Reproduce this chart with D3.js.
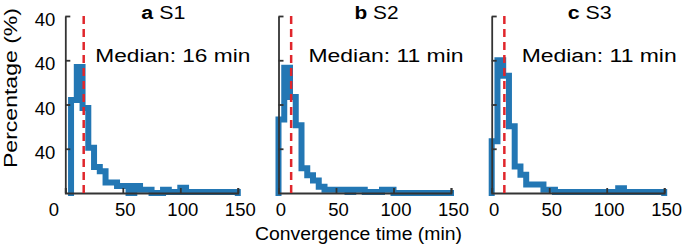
<!DOCTYPE html>
<html>
<head>
<meta charset="utf-8">
<script src="https://cdn.jsdelivr.net/npm/d3@7"></script>
<style>
  body { margin: 0; background: #fff; }
  text { font-family: "Liberation Sans", Arial, sans-serif; fill: #000; }
</style>
</head>
<body>
<script>
var width = 685;
var height = 250;

// histogram bins, 5 min wide
var binStarts = [0,5,10,15,20,25,30,35,40,45,50,55,60,65,70,75,80,85,90,95,100,105,110,115,120,125,130,135,140,145];
var binWidth = 5;

var pctS1 = [0,21,28.5,19.2,10.2,5.9,4.9,2.4,2.4,1.6,1.6,0,1.6,0.75,0.75,0,0,0.75,0.25,0.25,1.2,0.25,0.25,0.25,0.25,0.25,0.25,0.25,0.25,0.25];
var pctS2 = [16.6,28.3,21.7,15.3,5.6,4.0,2.8,1.4,0.75,0.75,0.75,0.75,0.25,0.75,0.75,0.25,0.25,0.25,0.75,0.75,0,0,0,0,0,0,0,0,0,0];
var pctS3 = [11.7,30,26.5,15.1,6.0,4.1,1.9,1.9,1.9,0.75,0.75,0.25,0.25,0.25,0.25,0.25,0.25,0.25,0.25,0.25,0.25,0.25,1.1,0.25,0.25,0.25,0.25,0.25,0.25,0.25];

var panelLetters = ["a", "b", "c"];
var panelNames = ["S1", "S2", "S3"];
var medians = [16, 11, 11];
var series = [pctS1, pctS2, pctS3];

var xTicks = [0, 50, 100, 150];
var yTicks = [10, 20, 30, 40];
var yTickLabels = ["40", "40", "40", "40"];

var svg = d3.select("body").append("svg")
    .attr("width", width)
    .attr("height", height);

var plotTop = 16;
var plotBottom = 193;
var plotWidth = 172.5;
var panelStep = 213.2;
var firstLeft = 65.3;

var yScale = d3.scaleLinear()
    .domain([0, 40])
    .range([plotBottom, plotTop]);

var blue = "#2377b4";
var red = "#e0262c";
var axisColor = "#333";

series.forEach(function(values, p) {
  var left = firstLeft + p * panelStep;
  var xScale = d3.scaleLinear()
      .domain([0, 150])
      .range([left, left + plotWidth]);

  var g = svg.append("g").attr("class", "panel");

  // stairs outline, leading empty bins skipped
  var first = 0;
  while (values[first] === 0) first++;
  var pts = [[binStarts[first], 0]];
  for (var i = first; i < values.length; i++) {
    pts.push([binStarts[i], values[i]]);
    pts.push([binStarts[i] + binWidth, values[i]]);
  }
  pts.push([binStarts[values.length - 1] + binWidth, 0]);

  var line = d3.line()
      .x(function(d) { return xScale(d[0]); })
      .y(function(d) { return yScale(d[1]); });

  g.append("path")
      .attr("d", line(pts))
      .attr("fill", "none")
      .attr("stroke", blue)
      .attr("stroke-width", 6)
      .attr("stroke-linejoin", "miter")
      .attr("stroke-linecap", "square");

  // axes
  var xAxis = d3.axisBottom(xScale)
      .tickValues(xTicks)
      .tickSizeInner(-5)
      .tickSizeOuter(-5)
      .tickPadding(10)
      .tickFormat(d3.format("d"));

  var yAxis = d3.axisLeft(yScale)
      .tickValues(yTicks)
      .tickSizeInner(-5)
      .tickSizeOuter(0)
      .tickPadding(10)
      .tickFormat(function(d, i) { return p === 0 ? yTickLabels[i] : ""; });

  var gx = g.append("g")
      .attr("transform", "translate(0," + plotBottom + ")")
      .call(xAxis);
  var gy = g.append("g")
      .attr("transform", "translate(" + left + ",0)")
      .call(yAxis);

  [gx, gy].forEach(function(ax) {
    ax.select(".domain").attr("stroke", axisColor).attr("stroke-width", 1.8);
    ax.selectAll(".tick line").attr("stroke", axisColor).attr("stroke-width", 1.8);
    ax.selectAll(".tick text")
      .attr("font-size", 18.5)
      .attr("font-family", "Liberation Sans, Arial, sans-serif")
      .attr("fill", "#000");
  });
  gy.selectAll(".tick text").attr("dy", "0.52em");
  gx.selectAll(".tick text").attr("dx", 2);
  if (p === 0) {
    gx.selectAll(".tick text").filter(function(d) { return d === 0; }).attr("dx", -12);
  }

  // median marker
  g.append("line")
      .attr("x1", xScale(medians[p]))
      .attr("x2", xScale(medians[p]))
      .attr("y1", plotTop)
      .attr("y2", plotBottom)
      .attr("stroke", red)
      .attr("stroke-width", 2.5)
      .attr("stroke-dasharray", "8,5");

  // title
  var title = g.append("text")
      .attr("x", left + 76)
      .attr("y", 18.5)
      .attr("font-size", 17.5)
      .attr("textLength", 44)
      .attr("lengthAdjust", "spacingAndGlyphs");
  title.append("tspan").attr("font-weight", "bold").text(panelLetters[p]);
  title.append("tspan").text(" " + panelNames[p]);

  g.append("text")
      .attr("x", left + 30)
      .attr("y", 62)
      .attr("font-size", 18)
      .attr("textLength", 155)
      .attr("lengthAdjust", "spacingAndGlyphs")
      .text("Median: " + medians[p] + " min");
});

svg.append("text")
    .attr("transform", "translate(17,88) rotate(-90)")
    .attr("text-anchor", "middle")
    .attr("font-size", 18.5)
    .attr("textLength", 160)
    .attr("lengthAdjust", "spacingAndGlyphs")
    .text("Percentage (%)");

svg.append("text")
    .attr("x", 358.5)
    .attr("y", 240)
    .attr("text-anchor", "middle")
    .attr("font-size", 17.5)
    .attr("textLength", 207)
    .attr("lengthAdjust", "spacingAndGlyphs")
    .text("Convergence time (min)");
</script>
</body>
</html>
